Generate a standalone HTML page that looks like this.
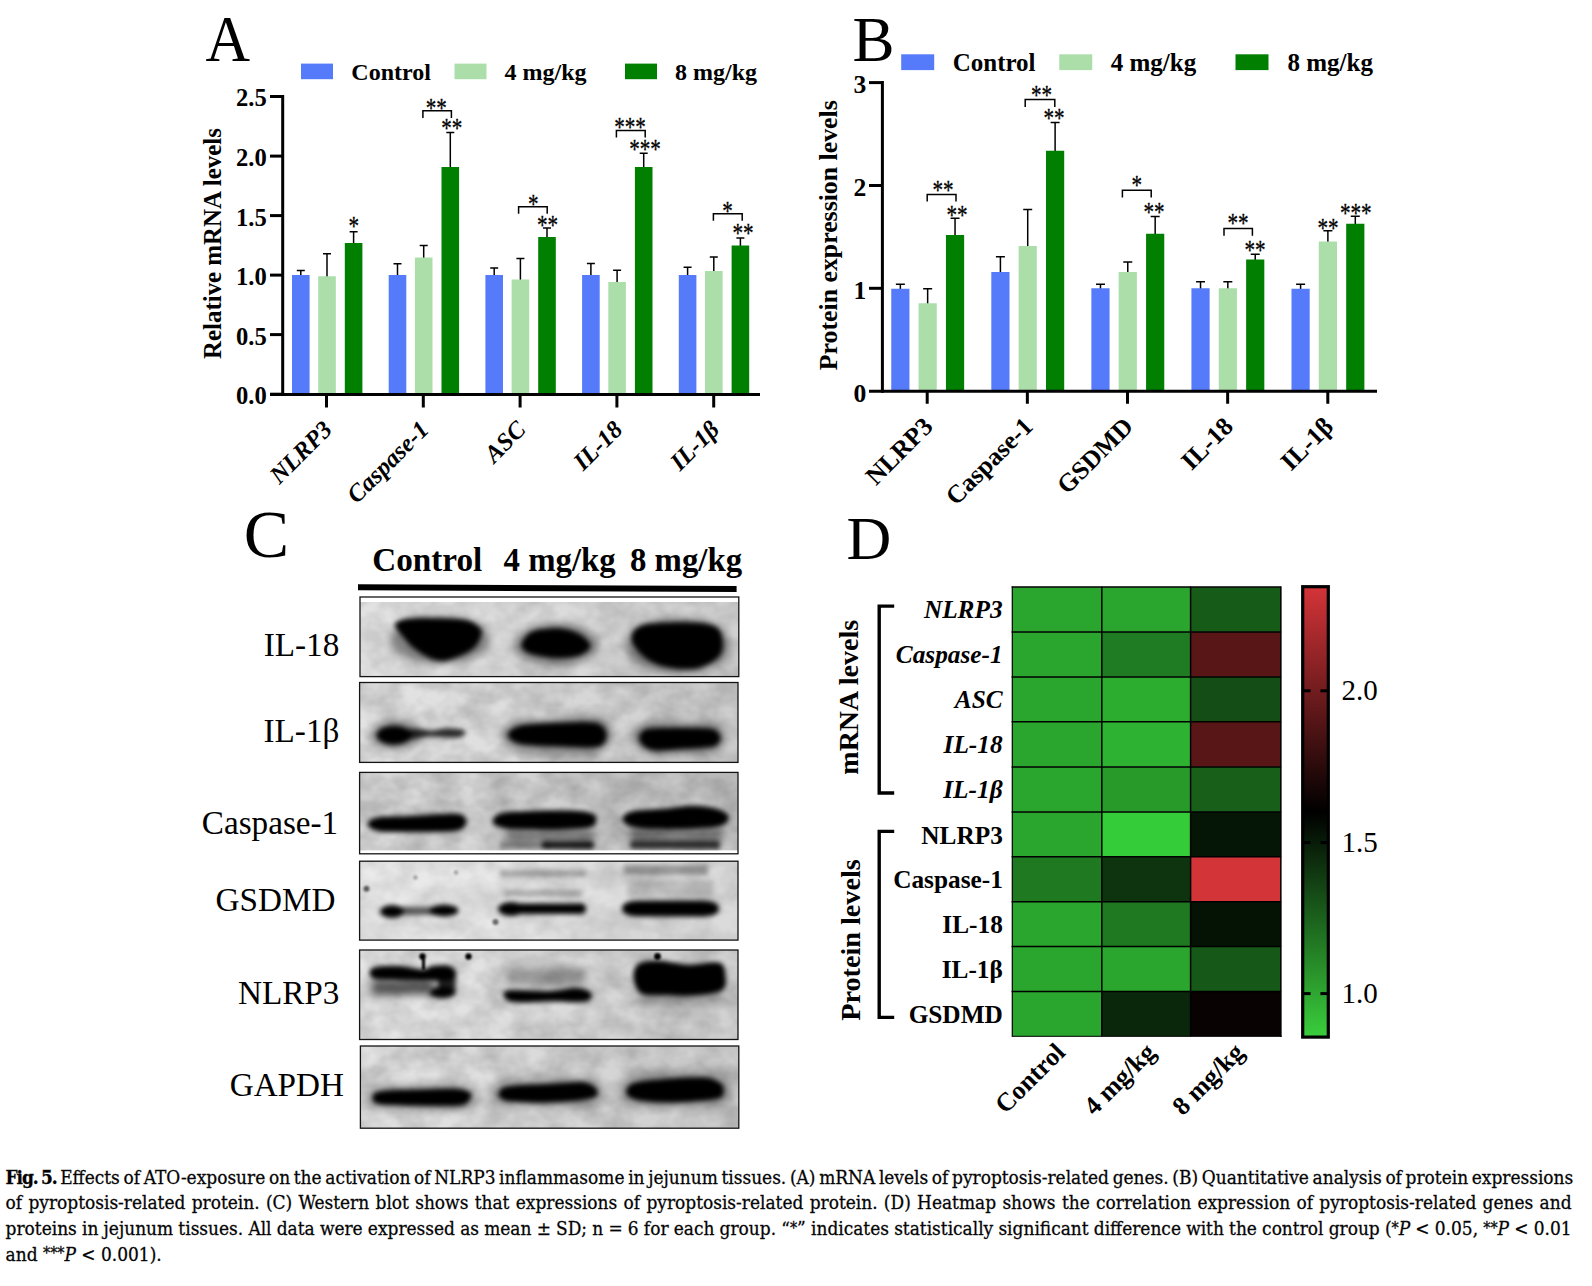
<!DOCTYPE html>
<html><head><meta charset="utf-8"><title>Fig. 5</title>
<style>html,body{margin:0;padding:0;background:#fff}svg{display:block}text{font-family:"Liberation Serif",serif;fill:#000}</style>
</head><body>
<svg width="1592" height="1286" viewBox="0 0 1592 1286">
<rect width="1592" height="1286" fill="#fff"/>
<text transform="translate(205.6 61) scale(0.935 1)" x="0" y="0" font-size="66">A</text>
<text x="852.5" y="60.7" font-size="63" font-weight="normal" font-style="normal" text-anchor="start">B</text>
<text x="243.8" y="557.4" font-size="68" font-weight="normal" font-style="normal" text-anchor="start">C</text>
<text x="846.5" y="558.7" font-size="62" font-weight="normal" font-style="normal" text-anchor="start">D</text>
<g id="panelA">
<line x1="300.8" y1="270.5" x2="300.8" y2="276" stroke="#000" stroke-width="1.5" stroke-linecap="butt"/>
<line x1="296.8" y1="270.5" x2="304.8" y2="270.5" stroke="#000" stroke-width="1.5" stroke-linecap="butt"/>
<rect x="292.00" y="275.00" width="17.60" height="119.40" fill="#557BFB"/>
<line x1="327.0" y1="253.75" x2="327.0" y2="277.25" stroke="#000" stroke-width="1.5" stroke-linecap="butt"/>
<line x1="323.0" y1="253.75" x2="331.0" y2="253.75" stroke="#000" stroke-width="1.5" stroke-linecap="butt"/>
<rect x="318.20" y="276.25" width="17.60" height="118.15" fill="#ACDEAA"/>
<line x1="353.6" y1="231.75" x2="353.6" y2="244" stroke="#000" stroke-width="1.5" stroke-linecap="butt"/>
<line x1="349.6" y1="231.75" x2="357.6" y2="231.75" stroke="#000" stroke-width="1.5" stroke-linecap="butt"/>
<rect x="344.80" y="243.00" width="17.60" height="151.40" fill="#007F00"/>
<line x1="397.5" y1="263.75" x2="397.5" y2="276" stroke="#000" stroke-width="1.5" stroke-linecap="butt"/>
<line x1="393.5" y1="263.75" x2="401.5" y2="263.75" stroke="#000" stroke-width="1.5" stroke-linecap="butt"/>
<rect x="388.70" y="275.00" width="17.60" height="119.40" fill="#557BFB"/>
<line x1="423.7" y1="245.5" x2="423.7" y2="258.5" stroke="#000" stroke-width="1.5" stroke-linecap="butt"/>
<line x1="419.7" y1="245.5" x2="427.7" y2="245.5" stroke="#000" stroke-width="1.5" stroke-linecap="butt"/>
<rect x="414.90" y="257.50" width="17.60" height="136.90" fill="#ACDEAA"/>
<line x1="450.3" y1="132.5" x2="450.3" y2="168" stroke="#000" stroke-width="1.5" stroke-linecap="butt"/>
<line x1="446.3" y1="132.5" x2="454.3" y2="132.5" stroke="#000" stroke-width="1.5" stroke-linecap="butt"/>
<rect x="441.50" y="167.00" width="17.60" height="227.40" fill="#007F00"/>
<line x1="494.2" y1="268" x2="494.2" y2="276" stroke="#000" stroke-width="1.5" stroke-linecap="butt"/>
<line x1="490.2" y1="268" x2="498.2" y2="268" stroke="#000" stroke-width="1.5" stroke-linecap="butt"/>
<rect x="485.40" y="275.00" width="17.60" height="119.40" fill="#557BFB"/>
<line x1="520.4" y1="258.5" x2="520.4" y2="280.5" stroke="#000" stroke-width="1.5" stroke-linecap="butt"/>
<line x1="516.4" y1="258.5" x2="524.4" y2="258.5" stroke="#000" stroke-width="1.5" stroke-linecap="butt"/>
<rect x="511.60" y="279.50" width="17.60" height="114.90" fill="#ACDEAA"/>
<line x1="546.9999999999999" y1="228" x2="546.9999999999999" y2="238" stroke="#000" stroke-width="1.5" stroke-linecap="butt"/>
<line x1="542.9999999999999" y1="228" x2="550.9999999999999" y2="228" stroke="#000" stroke-width="1.5" stroke-linecap="butt"/>
<rect x="538.20" y="237.00" width="17.60" height="157.40" fill="#007F00"/>
<line x1="590.9" y1="263.5" x2="590.9" y2="276" stroke="#000" stroke-width="1.5" stroke-linecap="butt"/>
<line x1="586.9" y1="263.5" x2="594.9" y2="263.5" stroke="#000" stroke-width="1.5" stroke-linecap="butt"/>
<rect x="582.10" y="275.00" width="17.60" height="119.40" fill="#557BFB"/>
<line x1="617.1" y1="270.25" x2="617.1" y2="283" stroke="#000" stroke-width="1.5" stroke-linecap="butt"/>
<line x1="613.1" y1="270.25" x2="621.1" y2="270.25" stroke="#000" stroke-width="1.5" stroke-linecap="butt"/>
<rect x="608.30" y="282.00" width="17.60" height="112.40" fill="#ACDEAA"/>
<line x1="643.6999999999999" y1="153.25" x2="643.6999999999999" y2="168" stroke="#000" stroke-width="1.5" stroke-linecap="butt"/>
<line x1="639.6999999999999" y1="153.25" x2="647.6999999999999" y2="153.25" stroke="#000" stroke-width="1.5" stroke-linecap="butt"/>
<rect x="634.90" y="167.00" width="17.60" height="227.40" fill="#007F00"/>
<line x1="687.5999999999999" y1="267.25" x2="687.5999999999999" y2="276" stroke="#000" stroke-width="1.5" stroke-linecap="butt"/>
<line x1="683.5999999999999" y1="267.25" x2="691.5999999999999" y2="267.25" stroke="#000" stroke-width="1.5" stroke-linecap="butt"/>
<rect x="678.80" y="275.00" width="17.60" height="119.40" fill="#557BFB"/>
<line x1="713.8" y1="257" x2="713.8" y2="272" stroke="#000" stroke-width="1.5" stroke-linecap="butt"/>
<line x1="709.8" y1="257" x2="717.8" y2="257" stroke="#000" stroke-width="1.5" stroke-linecap="butt"/>
<rect x="705.00" y="271.00" width="17.60" height="123.40" fill="#ACDEAA"/>
<line x1="740.3999999999999" y1="238" x2="740.3999999999999" y2="246.5" stroke="#000" stroke-width="1.5" stroke-linecap="butt"/>
<line x1="736.3999999999999" y1="238" x2="744.3999999999999" y2="238" stroke="#000" stroke-width="1.5" stroke-linecap="butt"/>
<rect x="731.60" y="245.50" width="17.60" height="148.90" fill="#007F00"/>
<line x1="282.7" y1="95.0" x2="282.7" y2="395.9" stroke="#000" stroke-width="3" stroke-linecap="butt"/>
<line x1="270" y1="394.4" x2="760" y2="394.4" stroke="#000" stroke-width="3" stroke-linecap="butt"/>
<line x1="270" y1="96.5" x2="282.7" y2="96.5" stroke="#000" stroke-width="3" stroke-linecap="butt"/>
<text x="266.8" y="106.4" font-size="24.6" font-weight="bold" font-style="normal" text-anchor="end">2.5</text>
<line x1="270" y1="156.1" x2="282.7" y2="156.1" stroke="#000" stroke-width="3" stroke-linecap="butt"/>
<text x="266.8" y="166.0" font-size="24.6" font-weight="bold" font-style="normal" text-anchor="end">2.0</text>
<line x1="270" y1="215.6" x2="282.7" y2="215.6" stroke="#000" stroke-width="3" stroke-linecap="butt"/>
<text x="266.8" y="225.5" font-size="24.6" font-weight="bold" font-style="normal" text-anchor="end">1.5</text>
<line x1="270" y1="275.1" x2="282.7" y2="275.1" stroke="#000" stroke-width="3" stroke-linecap="butt"/>
<text x="266.8" y="285.0" font-size="24.6" font-weight="bold" font-style="normal" text-anchor="end">1.0</text>
<line x1="270" y1="334.6" x2="282.7" y2="334.6" stroke="#000" stroke-width="3" stroke-linecap="butt"/>
<text x="266.8" y="344.5" font-size="24.6" font-weight="bold" font-style="normal" text-anchor="end">0.5</text>
<line x1="270" y1="394.2" x2="282.7" y2="394.2" stroke="#000" stroke-width="3" stroke-linecap="butt"/>
<text x="266.8" y="404.09999999999997" font-size="24.6" font-weight="bold" font-style="normal" text-anchor="end">0.0</text>
<line x1="326.5" y1="394.4" x2="326.5" y2="407.5" stroke="#000" stroke-width="3" stroke-linecap="butt"/>
<text x="333.5" y="431" font-size="24.6" font-weight="bold" font-style="italic" text-anchor="end" transform="rotate(-45 333.5 431)">NLRP3</text>
<line x1="423.3" y1="394.4" x2="423.3" y2="407.5" stroke="#000" stroke-width="3" stroke-linecap="butt"/>
<text x="430.3" y="431" font-size="24.6" font-weight="bold" font-style="italic" text-anchor="end" transform="rotate(-45 430.3 431)">Caspase-1</text>
<line x1="520.1" y1="394.4" x2="520.1" y2="407.5" stroke="#000" stroke-width="3" stroke-linecap="butt"/>
<text x="527.1" y="431" font-size="24.6" font-weight="bold" font-style="italic" text-anchor="end" transform="rotate(-45 527.1 431)">ASC</text>
<line x1="616.9" y1="394.4" x2="616.9" y2="407.5" stroke="#000" stroke-width="3" stroke-linecap="butt"/>
<text x="623.9" y="431" font-size="24.6" font-weight="bold" font-style="italic" text-anchor="end" transform="rotate(-45 623.9 431)">IL-18</text>
<line x1="713.7" y1="394.4" x2="713.7" y2="407.5" stroke="#000" stroke-width="3" stroke-linecap="butt"/>
<text x="720.7" y="431" font-size="24.6" font-weight="bold" font-style="italic" text-anchor="end" transform="rotate(-45 720.7 431)">IL-1β</text>
<text x="220.5" y="243.5" font-size="24.9" font-weight="bold" font-style="normal" text-anchor="middle" transform="rotate(-90 220.5 243.5)">Relative mRNA levels</text>
<rect x="301.00" y="63.60" width="32.00" height="15.60" fill="#557BFB"/>
<text x="351.3" y="79.8" font-size="24" font-weight="bold" font-style="normal" text-anchor="start">Control</text>
<rect x="454.50" y="63.60" width="32.00" height="15.60" fill="#ACDEAA"/>
<text x="504.5" y="79.8" font-size="24" font-weight="bold" font-style="normal" text-anchor="start">4 mg/kg</text>
<rect x="625.00" y="63.60" width="32.00" height="15.60" fill="#007F00"/>
<text x="675" y="79.8" font-size="24" font-weight="bold" font-style="normal" text-anchor="start">8 mg/kg</text>
<path d="M422.9 118V110.8H451.4V118" fill="none" stroke="#000" stroke-width="1.5"/>
<path d="M518.6 213.8V206.8H547.2V213.8" fill="none" stroke="#000" stroke-width="1.5"/>
<path d="M616.4 137.4V130.6H645.2V137.4" fill="none" stroke="#000" stroke-width="1.5"/>
<path d="M713.4 220.8V213.8H742.2V220.8" fill="none" stroke="#000" stroke-width="1.5"/>
<text transform="translate(353.75 222) scale(0.88 1.17)" x="0" y="10.94" font-size="24" text-anchor="middle" stroke="#000" stroke-width="0.3">*</text>
<text transform="translate(436.25 103.75) scale(0.88 1.17)" x="0" y="10.94" font-size="24" text-anchor="middle" stroke="#000" stroke-width="0.3">**</text>
<text transform="translate(451.75 123.75) scale(0.88 1.17)" x="0" y="10.94" font-size="24" text-anchor="middle" stroke="#000" stroke-width="0.3">**</text>
<text transform="translate(533.25 200) scale(0.88 1.17)" x="0" y="10.94" font-size="24" text-anchor="middle" stroke="#000" stroke-width="0.3">*</text>
<text transform="translate(547.5 220.75) scale(0.88 1.17)" x="0" y="10.94" font-size="24" text-anchor="middle" stroke="#000" stroke-width="0.3">**</text>
<text transform="translate(630 123) scale(0.88 1.17)" x="0" y="10.94" font-size="24" text-anchor="middle" stroke="#000" stroke-width="0.3">***</text>
<text transform="translate(645 145.5) scale(0.88 1.17)" x="0" y="10.94" font-size="24" text-anchor="middle" stroke="#000" stroke-width="0.3">***</text>
<text transform="translate(727.5 207) scale(0.88 1.17)" x="0" y="10.94" font-size="24" text-anchor="middle" stroke="#000" stroke-width="0.3">*</text>
<text transform="translate(743 229) scale(0.88 1.17)" x="0" y="10.94" font-size="24" text-anchor="middle" stroke="#000" stroke-width="0.3">**</text>
</g>
<g id="panelB">
<line x1="900.35" y1="284.25" x2="900.35" y2="289.75" stroke="#000" stroke-width="1.5" stroke-linecap="butt"/>
<line x1="895.85" y1="284.25" x2="904.85" y2="284.25" stroke="#000" stroke-width="1.5" stroke-linecap="butt"/>
<rect x="891.25" y="288.75" width="18.20" height="102.45" fill="#557BFB"/>
<line x1="927.65" y1="288.75" x2="927.65" y2="304.25" stroke="#000" stroke-width="1.5" stroke-linecap="butt"/>
<line x1="923.15" y1="288.75" x2="932.15" y2="288.75" stroke="#000" stroke-width="1.5" stroke-linecap="butt"/>
<rect x="918.55" y="303.25" width="18.20" height="87.95" fill="#ACDEAA"/>
<line x1="955.0500000000001" y1="218.25" x2="955.0500000000001" y2="236" stroke="#000" stroke-width="1.5" stroke-linecap="butt"/>
<line x1="950.5500000000001" y1="218.25" x2="959.5500000000001" y2="218.25" stroke="#000" stroke-width="1.5" stroke-linecap="butt"/>
<rect x="945.95" y="235.00" width="18.20" height="156.20" fill="#007F00"/>
<line x1="1000.41" y1="256.75" x2="1000.41" y2="273" stroke="#000" stroke-width="1.5" stroke-linecap="butt"/>
<line x1="995.91" y1="256.75" x2="1004.91" y2="256.75" stroke="#000" stroke-width="1.5" stroke-linecap="butt"/>
<rect x="991.31" y="272.00" width="18.20" height="119.20" fill="#557BFB"/>
<line x1="1027.7099999999998" y1="209.5" x2="1027.7099999999998" y2="247" stroke="#000" stroke-width="1.5" stroke-linecap="butt"/>
<line x1="1023.2099999999998" y1="209.5" x2="1032.2099999999998" y2="209.5" stroke="#000" stroke-width="1.5" stroke-linecap="butt"/>
<rect x="1018.61" y="246.00" width="18.20" height="145.20" fill="#ACDEAA"/>
<line x1="1055.11" y1="122.5" x2="1055.11" y2="151.75" stroke="#000" stroke-width="1.5" stroke-linecap="butt"/>
<line x1="1050.61" y1="122.5" x2="1059.61" y2="122.5" stroke="#000" stroke-width="1.5" stroke-linecap="butt"/>
<rect x="1046.01" y="150.75" width="18.20" height="240.45" fill="#007F00"/>
<line x1="1100.4699999999998" y1="284.25" x2="1100.4699999999998" y2="289.25" stroke="#000" stroke-width="1.5" stroke-linecap="butt"/>
<line x1="1095.9699999999998" y1="284.25" x2="1104.9699999999998" y2="284.25" stroke="#000" stroke-width="1.5" stroke-linecap="butt"/>
<rect x="1091.37" y="288.25" width="18.20" height="102.95" fill="#557BFB"/>
<line x1="1127.7699999999998" y1="262" x2="1127.7699999999998" y2="273" stroke="#000" stroke-width="1.5" stroke-linecap="butt"/>
<line x1="1123.2699999999998" y1="262" x2="1132.2699999999998" y2="262" stroke="#000" stroke-width="1.5" stroke-linecap="butt"/>
<rect x="1118.67" y="272.00" width="18.20" height="119.20" fill="#ACDEAA"/>
<line x1="1155.1699999999998" y1="216.5" x2="1155.1699999999998" y2="234.75" stroke="#000" stroke-width="1.5" stroke-linecap="butt"/>
<line x1="1150.6699999999998" y1="216.5" x2="1159.6699999999998" y2="216.5" stroke="#000" stroke-width="1.5" stroke-linecap="butt"/>
<rect x="1146.07" y="233.75" width="18.20" height="157.45" fill="#007F00"/>
<line x1="1200.53" y1="281.75" x2="1200.53" y2="289.25" stroke="#000" stroke-width="1.5" stroke-linecap="butt"/>
<line x1="1196.03" y1="281.75" x2="1205.03" y2="281.75" stroke="#000" stroke-width="1.5" stroke-linecap="butt"/>
<rect x="1191.43" y="288.25" width="18.20" height="102.95" fill="#557BFB"/>
<line x1="1227.83" y1="281.75" x2="1227.83" y2="289.25" stroke="#000" stroke-width="1.5" stroke-linecap="butt"/>
<line x1="1223.33" y1="281.75" x2="1232.33" y2="281.75" stroke="#000" stroke-width="1.5" stroke-linecap="butt"/>
<rect x="1218.73" y="288.25" width="18.20" height="102.95" fill="#ACDEAA"/>
<line x1="1255.23" y1="254.25" x2="1255.23" y2="260.5" stroke="#000" stroke-width="1.5" stroke-linecap="butt"/>
<line x1="1250.73" y1="254.25" x2="1259.73" y2="254.25" stroke="#000" stroke-width="1.5" stroke-linecap="butt"/>
<rect x="1246.13" y="259.50" width="18.20" height="131.70" fill="#007F00"/>
<line x1="1300.59" y1="284.25" x2="1300.59" y2="289.75" stroke="#000" stroke-width="1.5" stroke-linecap="butt"/>
<line x1="1296.09" y1="284.25" x2="1305.09" y2="284.25" stroke="#000" stroke-width="1.5" stroke-linecap="butt"/>
<rect x="1291.49" y="288.75" width="18.20" height="102.45" fill="#557BFB"/>
<line x1="1327.8899999999999" y1="230.75" x2="1327.8899999999999" y2="242.5" stroke="#000" stroke-width="1.5" stroke-linecap="butt"/>
<line x1="1323.3899999999999" y1="230.75" x2="1332.3899999999999" y2="230.75" stroke="#000" stroke-width="1.5" stroke-linecap="butt"/>
<rect x="1318.79" y="241.50" width="18.20" height="149.70" fill="#ACDEAA"/>
<line x1="1355.29" y1="216.25" x2="1355.29" y2="224.75" stroke="#000" stroke-width="1.5" stroke-linecap="butt"/>
<line x1="1350.79" y1="216.25" x2="1359.79" y2="216.25" stroke="#000" stroke-width="1.5" stroke-linecap="butt"/>
<rect x="1346.19" y="223.75" width="18.20" height="167.45" fill="#007F00"/>
<line x1="882.4" y1="81.1" x2="882.4" y2="392.7" stroke="#000" stroke-width="3" stroke-linecap="butt"/>
<line x1="869" y1="391.2" x2="1377" y2="391.2" stroke="#000" stroke-width="3" stroke-linecap="butt"/>
<line x1="869" y1="82.6" x2="882.4" y2="82.6" stroke="#000" stroke-width="3" stroke-linecap="butt"/>
<text x="866.2" y="93.0" font-size="25.6" font-weight="bold" font-style="normal" text-anchor="end">3</text>
<line x1="869" y1="185.5" x2="882.4" y2="185.5" stroke="#000" stroke-width="3" stroke-linecap="butt"/>
<text x="866.2" y="195.9" font-size="25.6" font-weight="bold" font-style="normal" text-anchor="end">2</text>
<line x1="869" y1="288.3" x2="882.4" y2="288.3" stroke="#000" stroke-width="3" stroke-linecap="butt"/>
<text x="866.2" y="298.7" font-size="25.6" font-weight="bold" font-style="normal" text-anchor="end">1</text>
<text x="866.2" y="401.59999999999997" font-size="25.6" font-weight="bold" font-style="normal" text-anchor="end">0</text>
<line x1="927.2" y1="391.2" x2="927.2" y2="403.75" stroke="#000" stroke-width="3" stroke-linecap="butt"/>
<text x="934.2" y="428" font-size="25.6" font-weight="bold" font-style="normal" text-anchor="end" transform="rotate(-45 934.2 428)">NLRP3</text>
<line x1="1027.3500000000001" y1="391.2" x2="1027.3500000000001" y2="403.75" stroke="#000" stroke-width="3" stroke-linecap="butt"/>
<text x="1034.35" y="428" font-size="25.6" font-weight="bold" font-style="normal" text-anchor="end" transform="rotate(-45 1034.35 428)">Caspase-1</text>
<line x1="1127.5" y1="391.2" x2="1127.5" y2="403.75" stroke="#000" stroke-width="3" stroke-linecap="butt"/>
<text x="1134.5" y="428" font-size="25.6" font-weight="bold" font-style="normal" text-anchor="end" transform="rotate(-45 1134.5 428)">GSDMD</text>
<line x1="1227.65" y1="391.2" x2="1227.65" y2="403.75" stroke="#000" stroke-width="3" stroke-linecap="butt"/>
<text x="1234.65" y="428" font-size="25.6" font-weight="bold" font-style="normal" text-anchor="end" transform="rotate(-45 1234.65 428)">IL-18</text>
<line x1="1327.8000000000002" y1="391.2" x2="1327.8000000000002" y2="403.75" stroke="#000" stroke-width="3" stroke-linecap="butt"/>
<text x="1334.8" y="428" font-size="25.6" font-weight="bold" font-style="normal" text-anchor="end" transform="rotate(-45 1334.8 428)">IL-1β</text>
<text x="837.5" y="235.2" font-size="25.8" font-weight="bold" font-style="normal" text-anchor="middle" transform="rotate(-90 837.5 235.2)">Protein expression levels</text>
<rect x="901.20" y="54.30" width="33.00" height="15.80" fill="#557BFB"/>
<text x="952.7" y="71" font-size="25" font-weight="bold" font-style="normal" text-anchor="start">Control</text>
<rect x="1059.25" y="54.30" width="33.00" height="15.80" fill="#ACDEAA"/>
<text x="1110.75" y="71" font-size="25" font-weight="bold" font-style="normal" text-anchor="start">4 mg/kg</text>
<rect x="1235.50" y="54.30" width="33.00" height="15.80" fill="#007F00"/>
<text x="1287.5" y="71" font-size="25" font-weight="bold" font-style="normal" text-anchor="start">8 mg/kg</text>
<path d="M927.2 201.5V194.4H956V201.5" fill="none" stroke="#000" stroke-width="1.5"/>
<path d="M1025.2 107V99.4H1054.8V107" fill="none" stroke="#000" stroke-width="1.5"/>
<path d="M1122.4 197.5V190.2H1151.2V197.5" fill="none" stroke="#000" stroke-width="1.5"/>
<path d="M1224 235.8V228.4H1252.4V235.8" fill="none" stroke="#000" stroke-width="1.5"/>
<text transform="translate(943 186.25) scale(0.88 1.17)" x="0" y="10.94" font-size="24" text-anchor="middle" stroke="#000" stroke-width="0.3">**</text>
<text transform="translate(957 211.25) scale(0.88 1.17)" x="0" y="10.94" font-size="24" text-anchor="middle" stroke="#000" stroke-width="0.3">**</text>
<text transform="translate(1041.6 91.4) scale(0.88 1.17)" x="0" y="10.94" font-size="24" text-anchor="middle" stroke="#000" stroke-width="0.3">**</text>
<text transform="translate(1054 114) scale(0.88 1.17)" x="0" y="10.94" font-size="24" text-anchor="middle" stroke="#000" stroke-width="0.3">**</text>
<text transform="translate(1136.75 181.25) scale(0.88 1.17)" x="0" y="10.94" font-size="24" text-anchor="middle" stroke="#000" stroke-width="0.3">*</text>
<text transform="translate(1154 208) scale(0.88 1.17)" x="0" y="10.94" font-size="24" text-anchor="middle" stroke="#000" stroke-width="0.3">**</text>
<text transform="translate(1238 219.25) scale(0.88 1.17)" x="0" y="10.94" font-size="24" text-anchor="middle" stroke="#000" stroke-width="0.3">**</text>
<text transform="translate(1255 246.25) scale(0.88 1.17)" x="0" y="10.94" font-size="24" text-anchor="middle" stroke="#000" stroke-width="0.3">**</text>
<text transform="translate(1328 223.75) scale(0.88 1.17)" x="0" y="10.94" font-size="24" text-anchor="middle" stroke="#000" stroke-width="0.3">**</text>
<text transform="translate(1355.75 209.25) scale(0.88 1.17)" x="0" y="10.94" font-size="24" text-anchor="middle" stroke="#000" stroke-width="0.3">***</text>
</g>
<g id="panelC">
<defs><filter id="bl" x="-10%" y="-30%" width="120%" height="160%"><feGaussianBlur stdDeviation="2.7"/></filter><filter id="bl2" x="-10%" y="-50%" width="120%" height="200%"><feGaussianBlur stdDeviation="4"/></filter><filter id="bl1" x="-30%" y="-30%" width="160%" height="160%"><feGaussianBlur stdDeviation="1.3"/></filter><filter id="bg" x="0" y="0" width="100%" height="100%"><feTurbulence type="fractalNoise" baseFrequency="0.035 0.045" numOctaves="3" seed="7" result="n"/><feColorMatrix in="n" type="matrix" values="0 0 0 0 0  0 0 0 0 0  0 0 0 0 0  0.32 0 0 0 -0.08"/></filter><linearGradient id="gbg" x1="0" x2="1" y1="0" y2="0"><stop offset="0" stop-color="#e2e2e2"/><stop offset="0.33" stop-color="#dedede"/><stop offset="0.6" stop-color="#d4d4d4"/><stop offset="1" stop-color="#cbcbcb"/></linearGradient></defs>
<text x="372.2" y="571.4" font-size="33.2" font-weight="bold" font-style="normal" text-anchor="start">Control</text>
<text x="503.6" y="571.4" font-size="32.8" font-weight="bold" font-style="normal" text-anchor="start">4 mg/kg</text>
<text x="630.0" y="571.4" font-size="32.8" font-weight="bold" font-style="normal" text-anchor="start">8 mg/kg</text>
<polygon points="358,584.2 736.6,586 736.6,592 358,590.2" fill="#000"/>
<text x="339.3" y="656.3" font-size="33.2" font-weight="normal" font-style="normal" text-anchor="end">IL-18</text>
<text x="339.4" y="742.4" font-size="33.2" font-weight="normal" font-style="normal" text-anchor="end">IL-1β</text>
<text x="338.2" y="833.6" font-size="33.2" font-weight="normal" font-style="normal" text-anchor="end">Caspase-1</text>
<text x="335.4" y="910.6" font-size="33.2" font-weight="normal" font-style="normal" text-anchor="end">GSDMD</text>
<text x="339.4" y="1004" font-size="33.2" font-weight="normal" font-style="normal" text-anchor="end">NLRP3</text>
<text x="344" y="1096.2" font-size="33.2" font-weight="normal" font-style="normal" text-anchor="end">GAPDH</text>
<clipPath id="cp0"><rect x="360" y="602" width="378.8" height="74.6"/></clipPath>
<g clip-path="url(#cp0)">
<rect x="360" y="602" width="378.8" height="74.6" fill="url(#gbg)"/>
<rect x="360" y="602" width="378.8" height="74.6" fill="#8a8a8a" filter="url(#bg)"/>
<rect x="360" y="602" width="378.8" height="74.6" fill="#fff" opacity="0.12"/>
<g filter="url(#bl)" fill="#000"><path d="M395.2 624.2C396.2 621.3 401.7 619.8 408.8 618.8C415.9 617.8 428.1 618.2 437.7 618.5C447.3 618.8 459.3 618.7 466.3 620.3C473.3 621.9 477.4 625.2 479.8 627.9C482.2 630.6 482.0 633.0 481.0 636.4C480.0 639.8 477.3 645.0 473.6 648.3C469.9 651.6 464.1 654.3 458.9 656.4C453.7 658.5 447.5 660.8 442.4 661.0C437.3 661.2 433.1 659.6 428.3 657.5C423.6 655.4 418.1 651.8 413.9 648.3C409.6 644.8 405.9 640.4 402.8 636.4C399.7 632.4 394.2 627.1 395.2 624.2Z"/><path d="M521.5 643.8C522.3 640.4 526.5 634.6 531.3 632.0C536.1 629.4 544.2 628.8 550.5 628.4C556.8 628.0 563.5 628.5 569.0 629.9C574.5 631.3 579.9 634.0 583.5 636.7C587.1 639.4 590.9 643.2 590.5 646.2C590.1 649.2 585.9 652.9 581.1 654.9C576.3 656.9 568.6 657.8 561.9 658.1C555.2 658.4 547.0 657.5 541.1 656.5C535.2 655.5 529.7 654.2 526.4 652.1C523.1 650.0 520.7 647.1 521.5 643.8Z"/><path d="M631.5 637.7C631.9 633.3 634.8 628.2 641.3 625.7C647.8 623.2 660.9 623.1 670.5 622.7C680.1 622.3 691.2 622.2 699.0 623.1C706.8 624.0 713.4 624.9 717.4 628.1C721.4 631.4 722.6 637.8 722.8 642.6C723.0 647.4 722.6 652.8 718.6 657.0C714.6 661.2 706.2 665.8 699.0 667.7C691.8 669.6 682.8 669.3 675.2 668.5C667.7 667.7 659.7 665.6 653.7 662.9C647.7 660.2 642.7 656.4 639.0 652.2C635.3 648.0 631.1 642.1 631.5 637.7Z"/></g>
<g filter="url(#bl2)" fill="#000"><ellipse cx="440" cy="640" rx="50" ry="24" opacity="0.4"/><ellipse cx="556" cy="645" rx="42" ry="21" opacity="0.4"/><ellipse cx="678" cy="646" rx="52" ry="28" opacity="0.4"/></g>
</g>
<rect x="360" y="597" width="378.8" height="79.6" fill="none" stroke="#141414" stroke-width="1.3"/>
<clipPath id="cp1"><rect x="359.6" y="682.5" width="378.4" height="79.9"/></clipPath>
<g clip-path="url(#cp1)">
<rect x="359.6" y="682.5" width="378.4" height="79.9" fill="url(#gbg)"/>
<rect x="359.6" y="682.5" width="378.4" height="79.9" fill="#8a8a8a" filter="url(#bg)"/>
<rect x="359.6" y="682.5" width="378.4" height="79.9" fill="#fff" opacity="0.05"/>
<g filter="url(#bl)" fill="#000"><ellipse cx="394" cy="735.3" rx="17.5" ry="9.5"/><path d="M404.0 730.0C407.0 728.3 417.3 729.4 422.0 729.5C426.7 729.6 428.0 730.7 432.0 730.5C436.0 730.3 441.0 728.7 446.0 728.5C451.0 728.3 458.8 728.7 462.0 729.5C465.2 730.3 465.8 732.2 465.5 733.5C465.2 734.8 463.2 736.3 460.0 737.0C456.8 737.7 450.7 737.6 446.0 737.5C441.3 737.4 436.0 736.5 432.0 736.5C428.0 736.5 426.7 737.0 422.0 737.5C417.3 738.0 407.0 740.8 404.0 739.5C401.0 738.2 401.0 731.7 404.0 730.0Z" opacity="0.8"/><path d="M508.0 735.0C508.0 732.6 511.3 729.2 515.0 727.5C518.7 725.8 522.5 725.2 530.0 724.5C537.5 723.8 550.0 723.3 560.0 723.0C570.0 722.7 583.0 722.0 590.0 722.5C597.0 723.0 599.2 723.9 602.0 726.0C604.8 728.1 606.3 732.0 606.5 735.0C606.7 738.0 605.4 741.9 603.0 744.0C600.6 746.1 599.2 747.1 592.0 747.5C584.8 747.9 570.3 746.9 560.0 746.5C549.7 746.1 537.5 745.8 530.0 745.0C522.5 744.2 518.7 743.7 515.0 742.0C511.3 740.3 508.0 737.4 508.0 735.0Z"/><path d="M639.0 738.5C638.7 735.8 640.8 732.7 643.0 731.0C645.2 729.3 645.8 729.0 652.0 728.5C658.2 728.0 670.7 728.0 680.0 728.0C689.3 728.0 701.8 727.9 708.0 728.5C714.2 729.1 714.9 729.8 717.0 731.5C719.1 733.2 720.7 736.2 720.5 738.5C720.3 740.8 718.6 744.0 716.0 745.5C713.4 747.0 711.0 746.9 705.0 747.5C699.0 748.1 688.0 748.5 680.0 749.0C672.0 749.5 662.8 750.8 657.0 750.5C651.2 750.2 648.0 749.0 645.0 747.0C642.0 745.0 639.3 741.2 639.0 738.5Z"/></g>
<g filter="url(#bl2)" fill="#000"><path d="M502.0 735.0C502.0 730.8 505.3 724.7 515.0 722.0C524.7 719.3 545.8 719.5 560.0 719.0C574.2 718.5 591.5 716.3 600.0 719.0C608.5 721.7 610.7 729.8 611.0 735.0C611.3 740.2 610.5 747.5 602.0 750.0C593.5 752.5 574.5 750.5 560.0 750.0C545.5 749.5 524.7 749.5 515.0 747.0C505.3 744.5 502.0 739.2 502.0 735.0Z" opacity="0.4"/><path d="M633.0 738.0C632.2 733.0 637.2 726.3 645.0 724.0C652.8 721.7 668.3 723.8 680.0 724.0C691.7 724.2 707.5 722.7 715.0 725.0C722.5 727.3 724.8 733.7 725.0 738.0C725.2 742.3 723.5 748.5 716.0 751.0C708.5 753.5 691.0 752.5 680.0 753.0C669.0 753.5 657.8 756.5 650.0 754.0C642.2 751.5 633.8 743.0 633.0 738.0Z" opacity="0.4"/><ellipse cx="396" cy="735" rx="26" ry="14" opacity="0.35"/><rect x="520" y="750" width="75" height="7" opacity="0.25"/></g>
</g>
<rect x="359.6" y="682.5" width="378.4" height="79.9" fill="none" stroke="#141414" stroke-width="1.3"/>
<clipPath id="cp2"><rect x="359.6" y="772.4" width="378.4" height="78.1"/></clipPath>
<g clip-path="url(#cp2)">
<rect x="359.6" y="772.4" width="378.4" height="78.1" fill="url(#gbg)"/>
<rect x="359.6" y="772.4" width="378.4" height="78.1" fill="#8a8a8a" filter="url(#bg)"/>
<rect x="359.6" y="772.4" width="378.4" height="78.1" fill="#000" opacity="0.03"/>
<g filter="url(#bl)" fill="#000"><path d="M367.5 824.0C367.5 821.7 370.9 818.5 378.0 817.2C385.1 815.9 399.7 816.5 410.0 816.0C420.3 815.5 431.7 814.3 440.0 814.0C448.3 813.7 455.6 812.8 460.0 814.0C464.4 815.2 466.5 818.8 466.5 821.5C466.5 824.2 464.4 828.2 460.0 830.0C455.6 831.8 448.3 831.7 440.0 832.0C431.7 832.3 420.3 832.1 410.0 832.0C399.7 831.9 385.1 832.5 378.0 831.2C370.9 829.9 367.5 826.3 367.5 824.0Z"/><path d="M492.5 821.3C492.9 819.2 494.6 815.4 500.0 813.7C505.4 812.0 512.5 811.7 525.0 811.2C537.5 810.7 563.8 810.3 575.0 810.7C586.2 811.1 589.0 812.4 592.5 813.7C596.0 815.1 596.7 816.5 596.3 818.8C595.9 821.1 597.7 825.7 590.0 827.6C582.3 829.5 562.9 829.8 550.0 830.1C537.1 830.4 521.2 829.9 512.5 829.3C503.8 828.7 500.8 827.6 497.5 826.3C494.2 825.0 492.1 823.4 492.5 821.3Z"/><path d="M622.5 818.8C622.9 816.3 625.8 812.9 632.5 811.2C639.2 809.5 652.1 809.6 662.5 808.7C672.9 807.8 685.4 805.5 695.0 805.7C704.6 805.9 714.4 808.0 720.0 810.0C725.6 812.0 728.8 814.8 728.8 817.5C728.8 820.2 726.9 824.3 720.0 826.3C713.1 828.3 699.2 828.8 687.5 829.3C675.8 829.8 659.6 829.8 650.0 829.3C640.4 828.8 634.6 828.0 630.0 826.3C625.4 824.5 622.1 821.3 622.5 818.8Z"/></g>
<g filter="url(#bl)" fill="#000"><rect x="542" y="841" width="52" height="8" rx="3" opacity="0.85"/><rect x="500" y="842" width="50" height="7" rx="3" opacity="0.35"/><rect x="630" y="840.5" width="90" height="8.5" rx="3" opacity="0.75"/></g>
<g filter="url(#bl2)" fill="#000"><rect x="505" y="830" width="88" height="12" opacity="0.4"/><rect x="630" y="829" width="92" height="12" opacity="0.45"/></g>
</g>
<rect x="359.6" y="772.4" width="378.4" height="81.4" fill="none" stroke="#141414" stroke-width="1.3"/>
<clipPath id="cp3"><rect x="359.6" y="861.2" width="378.4" height="78.9"/></clipPath>
<g clip-path="url(#cp3)">
<rect x="359.6" y="861.2" width="378.4" height="78.9" fill="url(#gbg)"/>
<rect x="359.6" y="861.2" width="378.4" height="78.9" fill="#8a8a8a" filter="url(#bg)"/>
<rect x="359.6" y="861.2" width="378.4" height="78.9" fill="#fff" opacity="0.3"/>
<g filter="url(#bl)" fill="#000"><ellipse cx="392" cy="911.5" rx="12" ry="6.5"/><ellipse cx="444" cy="910.5" rx="14.5" ry="6"/><rect x="392" y="907" width="50" height="8" rx="3" opacity="0.6"/><ellipse cx="511" cy="909" rx="13" ry="7"/><rect x="505" y="903.5" width="81" height="10.5" rx="5"/><path d="M622.0 908.5 Q622.0 900.5 641.4 900.5 L699.6 900.5 Q719.0 900.5 719.0 908.5 Q719.0 916.5 699.6 916.5 L641.4 916.5 Q622.0 916.5 622.0 908.5Z"/></g>
<g filter="url(#bl)" fill="#000"><rect x="500" y="870.5" width="86" height="6" opacity="0.28"/><rect x="504" y="890" width="78" height="6.5" opacity="0.25"/><rect x="624" y="865" width="84" height="10" opacity="0.3"/><rect x="628" y="880" width="85" height="18" opacity="0.12"/></g>
<g filter="url(#bl1)" fill="#000"><circle cx="366.5" cy="888.8" r="3" opacity="0.6"/><circle cx="495.5" cy="922" r="3" opacity="0.55"/><circle cx="415.5" cy="877.5" r="2.2" opacity="0.3"/><circle cx="456" cy="872.5" r="2.2" opacity="0.3"/></g>
</g>
<rect x="359.6" y="861.2" width="378.4" height="78.9" fill="none" stroke="#141414" stroke-width="1.3"/>
<clipPath id="cp4"><rect x="359.6" y="950" width="378.4" height="89.5"/></clipPath>
<g clip-path="url(#cp4)">
<rect x="359.6" y="950" width="378.4" height="89.5" fill="url(#gbg)"/>
<rect x="359.6" y="950" width="378.4" height="89.5" fill="#8a8a8a" filter="url(#bg)"/>
<rect x="359.6" y="950" width="378.4" height="89.5" fill="#fff" opacity="0.1"/>
<g filter="url(#bl)" fill="#000"><path d="M369.5 972.5C369.5 970.5 370.4 968.1 375.5 967.0C380.6 965.9 392.2 965.6 400.0 966.0C407.8 966.4 417.1 969.5 422.5 969.5C427.9 969.5 428.0 966.6 432.5 966.0C437.0 965.4 445.6 964.9 449.5 966.0C453.4 967.1 455.6 970.2 456.0 972.5C456.4 974.8 456.3 978.1 452.0 979.5C447.7 980.9 438.7 980.6 430.0 980.8C421.3 981.0 409.1 980.8 400.0 980.5C390.9 980.2 380.6 980.6 375.5 979.3C370.4 978.0 369.5 974.5 369.5 972.5Z"/><ellipse cx="442.5" cy="992.5" rx="13" ry="5.8"/><rect x="438" y="974" width="17.5" height="19" opacity="0.85"/><path d="M503.5 995.0C503.1 993.0 503.2 990.8 511.0 990.1C518.8 989.4 539.8 991.3 550.3 990.9C560.8 990.5 568.0 987.9 574.0 987.8C580.0 987.7 583.5 988.8 586.5 990.1C589.5 991.4 592.4 993.5 592.0 995.5C591.6 997.5 591.0 1000.8 584.0 1001.8C577.0 1002.8 562.0 1001.4 550.2 1001.5C538.5 1001.6 521.3 1003.4 513.5 1002.3C505.7 1001.2 503.9 997.0 503.5 995.0Z"/><path d="M633.5 977.5C633.1 972.6 634.3 966.9 638.4 964.1C642.5 961.3 650.2 960.5 658.3 960.6C666.4 960.7 676.9 964.2 687.0 964.6C697.1 965.0 712.7 961.0 719.1 962.8C725.5 964.5 724.7 970.6 725.3 975.1C725.9 979.6 727.1 986.3 722.8 989.7C718.4 993.1 709.1 994.6 699.2 995.6C689.3 996.6 672.9 996.0 663.2 995.6C653.5 995.2 645.9 996.4 640.9 993.4C635.9 990.4 633.9 982.4 633.5 977.5Z"/></g>
<g filter="url(#bl2)" fill="#000"><rect x="372" y="980" width="62" height="15" opacity="0.6"/><rect x="508" y="968" width="78" height="18" opacity="0.3"/><rect x="640" y="994" width="80" height="10" opacity="0.3"/></g>
<g filter="url(#bl1)" fill="#000"><circle cx="422.5" cy="956.5" r="3.2"/><circle cx="468.5" cy="956.5" r="3.2"/><circle cx="657.5" cy="956.5" r="3.4"/><rect x="422" y="956" width="3" height="14"/></g>
</g>
<rect x="359.6" y="950" width="378.4" height="89.5" fill="none" stroke="#141414" stroke-width="1.3"/>
<clipPath id="cp5"><rect x="360.4" y="1046" width="378.4" height="82.2"/></clipPath>
<g clip-path="url(#cp5)">
<rect x="360.4" y="1046" width="378.4" height="82.2" fill="url(#gbg)"/>
<rect x="360.4" y="1046" width="378.4" height="82.2" fill="#8a8a8a" filter="url(#bg)"/>
<rect x="360.4" y="1046" width="378.4" height="82.2" fill="#fff" opacity="0.05"/>
<g filter="url(#bl)" fill="#000"><path d="M372.5 1098.8C372.5 1096.6 371.2 1092.8 380.0 1091.2C388.8 1089.6 412.1 1089.6 425.0 1089.2C437.9 1088.8 450.0 1088.2 457.5 1088.7C465.0 1089.2 467.7 1091.2 470.0 1092.5C472.3 1093.8 471.7 1094.6 471.3 1096.3C470.9 1098.0 469.8 1101.0 467.5 1102.6C465.2 1104.2 466.7 1105.3 457.5 1105.8C448.3 1106.3 425.4 1106.0 412.5 1105.8C399.6 1105.5 386.7 1105.5 380.0 1104.3C373.3 1103.1 372.5 1101.0 372.5 1098.8Z"/><path d="M498.7 1093.8C499.7 1091.7 498.9 1087.9 507.5 1086.2C516.0 1084.5 537.1 1084.3 550.0 1083.7C562.9 1083.1 577.1 1081.2 585.0 1082.5C592.9 1083.8 596.7 1088.5 597.5 1091.2C598.3 1093.9 597.9 1096.9 590.0 1098.8C582.1 1100.7 562.9 1102.1 550.0 1102.6C537.1 1103.1 520.6 1102.4 512.5 1101.8C504.4 1101.2 503.6 1100.1 501.3 1098.8C499.0 1097.5 497.7 1095.9 498.7 1093.8Z"/><path d="M626.2 1091.3C627.0 1088.8 626.9 1084.7 635.0 1082.5C643.1 1080.3 663.3 1079.0 675.0 1078.2C686.7 1077.4 697.5 1076.8 705.0 1077.5C712.5 1078.2 716.9 1080.4 720.0 1082.5C723.1 1084.6 724.2 1087.3 723.8 1090.0C723.4 1092.7 725.6 1096.7 717.5 1098.8C709.4 1100.9 687.1 1102.2 675.0 1102.6C662.9 1103.0 652.5 1102.1 645.0 1101.3C637.5 1100.5 633.1 1099.3 630.0 1097.6C626.9 1095.9 625.4 1093.8 626.2 1091.3Z"/></g>
<g filter="url(#bl2)" fill="#000"><rect x="366" y="1084" width="112" height="27" rx="13" opacity="0.25"/><rect x="492" y="1078" width="111" height="29" rx="14" opacity="0.25"/><rect x="620" y="1072" width="111" height="35" rx="16" opacity="0.25"/></g>
</g>
<rect x="360.4" y="1046" width="378.4" height="82.2" fill="none" stroke="#141414" stroke-width="1.3"/>
</g>
<g id="panelD">
<rect x="1012.3" y="587.1" width="89.5" height="44.8" fill="#2aa52d"/>
<rect x="1101.8" y="587.1" width="88.8" height="44.8" fill="#2aa52d"/>
<rect x="1190.6" y="587.1" width="90.6" height="44.8" fill="#175b19"/>
<rect x="1012.3" y="631.9" width="89.5" height="45.0" fill="#2aa52d"/>
<rect x="1101.8" y="631.9" width="88.8" height="45.0" fill="#1f7c22"/>
<rect x="1190.6" y="631.9" width="90.6" height="45.0" fill="#581617"/>
<rect x="1012.3" y="676.9" width="89.5" height="44.9" fill="#2aa52d"/>
<rect x="1101.8" y="676.9" width="88.8" height="44.9" fill="#2cad2f"/>
<rect x="1190.6" y="676.9" width="90.6" height="44.9" fill="#144d15"/>
<rect x="1012.3" y="721.8" width="89.5" height="45.1" fill="#2aa52d"/>
<rect x="1101.8" y="721.8" width="88.8" height="45.1" fill="#2db331"/>
<rect x="1190.6" y="721.8" width="90.6" height="45.1" fill="#581617"/>
<rect x="1012.3" y="766.9" width="89.5" height="45.0" fill="#2aa52d"/>
<rect x="1101.8" y="766.9" width="88.8" height="45.0" fill="#279a2a"/>
<rect x="1190.6" y="766.9" width="90.6" height="45.0" fill="#18601a"/>
<rect x="1012.3" y="811.9" width="89.5" height="44.9" fill="#2aa52d"/>
<rect x="1101.8" y="811.9" width="88.8" height="44.9" fill="#34cc38"/>
<rect x="1190.6" y="811.9" width="90.6" height="44.9" fill="#061606"/>
<rect x="1012.3" y="856.8" width="89.5" height="44.9" fill="#1f7921"/>
<rect x="1101.8" y="856.8" width="88.8" height="44.9" fill="#0d340e"/>
<rect x="1190.6" y="856.8" width="90.6" height="44.9" fill="#d23438"/>
<rect x="1012.3" y="901.7" width="89.5" height="44.9" fill="#2aa52d"/>
<rect x="1101.8" y="901.7" width="88.8" height="44.9" fill="#1f7921"/>
<rect x="1190.6" y="901.7" width="90.6" height="44.9" fill="#051305"/>
<rect x="1012.3" y="946.6" width="89.5" height="44.9" fill="#2aa52d"/>
<rect x="1101.8" y="946.6" width="88.8" height="44.9" fill="#2aa52d"/>
<rect x="1190.6" y="946.6" width="90.6" height="44.9" fill="#165818"/>
<rect x="1012.3" y="991.5" width="89.5" height="44.8" fill="#2aa52d"/>
<rect x="1101.8" y="991.5" width="88.8" height="44.8" fill="#0a270b"/>
<rect x="1190.6" y="991.5" width="90.6" height="44.8" fill="#080202"/>
<line x1="1011.5999999999999" y1="587.1" x2="1281.2" y2="587.1" stroke="#000" stroke-width="1.5" stroke-linecap="butt"/>
<line x1="1011.5999999999999" y1="631.9" x2="1281.2" y2="631.9" stroke="#000" stroke-width="1.5" stroke-linecap="butt"/>
<line x1="1011.5999999999999" y1="676.9" x2="1281.2" y2="676.9" stroke="#000" stroke-width="1.5" stroke-linecap="butt"/>
<line x1="1011.5999999999999" y1="721.8" x2="1281.2" y2="721.8" stroke="#000" stroke-width="1.5" stroke-linecap="butt"/>
<line x1="1011.5999999999999" y1="766.9" x2="1281.2" y2="766.9" stroke="#000" stroke-width="1.5" stroke-linecap="butt"/>
<line x1="1011.5999999999999" y1="811.9" x2="1281.2" y2="811.9" stroke="#000" stroke-width="1.5" stroke-linecap="butt"/>
<line x1="1011.5999999999999" y1="856.8" x2="1281.2" y2="856.8" stroke="#000" stroke-width="1.5" stroke-linecap="butt"/>
<line x1="1011.5999999999999" y1="901.7" x2="1281.2" y2="901.7" stroke="#000" stroke-width="1.5" stroke-linecap="butt"/>
<line x1="1011.5999999999999" y1="946.6" x2="1281.2" y2="946.6" stroke="#000" stroke-width="1.5" stroke-linecap="butt"/>
<line x1="1011.5999999999999" y1="991.5" x2="1281.2" y2="991.5" stroke="#000" stroke-width="1.5" stroke-linecap="butt"/>
<line x1="1012.3" y1="586.4" x2="1012.3" y2="1036.3" stroke="#000" stroke-width="1.2" stroke-linecap="butt"/>
<line x1="1101.8" y1="586.4" x2="1101.8" y2="1036.3" stroke="#000" stroke-width="1.5" stroke-linecap="butt"/>
<line x1="1190.6" y1="586.4" x2="1190.6" y2="1036.3" stroke="#000" stroke-width="1.5" stroke-linecap="butt"/>
<line x1="1011.6999999999999" y1="1036.3" x2="1281.8" y2="1036.3" stroke="#000" stroke-width="1.0" stroke-linecap="butt"/>
<line x1="1280.8" y1="586.4" x2="1280.8" y2="1036.8" stroke="#000" stroke-width="1.5" stroke-linecap="butt"/>
<text x="1002.6" y="617.5" font-size="25.3" font-weight="bold" font-style="italic" text-anchor="end">NLRP3</text>
<text x="1002.6" y="663" font-size="25.3" font-weight="bold" font-style="italic" text-anchor="end">Caspase-1</text>
<text x="1002.6" y="708" font-size="25.3" font-weight="bold" font-style="italic" text-anchor="end">ASC</text>
<text x="1002.6" y="753" font-size="25.3" font-weight="bold" font-style="italic" text-anchor="end">IL-18</text>
<text x="1002.6" y="797.7" font-size="25.3" font-weight="bold" font-style="italic" text-anchor="end">IL-1β</text>
<text x="1002.8" y="843.8" font-size="25.3" font-weight="bold" font-style="normal" text-anchor="end">NLRP3</text>
<text x="1002.8" y="888" font-size="25.3" font-weight="bold" font-style="normal" text-anchor="end">Caspase-1</text>
<text x="1002.8" y="932.6" font-size="25.3" font-weight="bold" font-style="normal" text-anchor="end">IL-18</text>
<text x="1002.8" y="977.6" font-size="25.3" font-weight="bold" font-style="normal" text-anchor="end">IL-1β</text>
<text x="1002.8" y="1022.5" font-size="25.3" font-weight="bold" font-style="normal" text-anchor="end">GSDMD</text>
<path d="M894.2 606.1H879.2V793H894.2" fill="none" stroke="#000" stroke-width="3.4"/>
<path d="M894.2 831.4H879.2V1017.4H894.2" fill="none" stroke="#000" stroke-width="3.4"/>
<text x="857.9" y="697.3" font-size="28" font-weight="bold" font-style="normal" text-anchor="middle" transform="rotate(-90 857.9 697.3)">mRNA levels</text>
<text x="859.7" y="940" font-size="28.2" font-weight="bold" font-style="normal" text-anchor="middle" transform="rotate(-90 859.7 940)">Protein levels</text>
<text x="1066.5" y="1053.8" font-size="26" font-weight="bold" font-style="normal" text-anchor="end" transform="rotate(-45 1066.5 1053.8)">Control</text>
<text x="1157" y="1053.8" font-size="26" font-weight="bold" font-style="normal" text-anchor="end" transform="rotate(-45 1157 1053.8)">4 mg/kg</text>
<text x="1245.5" y="1053.8" font-size="26" font-weight="bold" font-style="normal" text-anchor="end" transform="rotate(-45 1245.5 1053.8)">8 mg/kg</text>
<defs><linearGradient id="cb" x1="0" y1="0" x2="0" y2="1"><stop offset="0" stop-color="#d43438"/><stop offset="0.5" stop-color="#000"/><stop offset="1" stop-color="#3ace3c"/></linearGradient></defs>
<rect x="1302.7" y="586.7" width="25.6" height="450.4" fill="url(#cb)" stroke="#000" stroke-width="3.2"/>
<line x1="1302.8" y1="690.8" x2="1310.6" y2="690.8" stroke="#000" stroke-width="3" stroke-linecap="butt"/>
<line x1="1320.4" y1="690.8" x2="1328.2" y2="690.8" stroke="#000" stroke-width="3" stroke-linecap="butt"/>
<text x="1341.6" y="699.9" font-size="29" font-weight="normal" font-style="normal" text-anchor="start">2.0</text>
<line x1="1302.8" y1="842.6" x2="1310.6" y2="842.6" stroke="#000" stroke-width="3" stroke-linecap="butt"/>
<line x1="1320.4" y1="842.6" x2="1328.2" y2="842.6" stroke="#000" stroke-width="3" stroke-linecap="butt"/>
<text x="1341.6" y="851.7" font-size="29" font-weight="normal" font-style="normal" text-anchor="start">1.5</text>
<line x1="1302.8" y1="993.6" x2="1310.6" y2="993.6" stroke="#000" stroke-width="3" stroke-linecap="butt"/>
<line x1="1320.4" y1="993.6" x2="1328.2" y2="993.6" stroke="#000" stroke-width="3" stroke-linecap="butt"/>
<text x="1341.6" y="1002.7" font-size="29" font-weight="normal" font-style="normal" text-anchor="start">1.0</text>
</g>
<g id="caption" fill="#141414" stroke="#141414" stroke-width="0.3">
<text transform="translate(5.6 1183.5) scale(0.975 1)" x="0" y="0" font-size="19.4" word-spacing="-1.775" style="font-family:'DejaVu Serif Condensed', 'Liberation Serif', serif"><tspan font-weight="bold" letter-spacing="-1.1" word-spacing="-1.6">Fig. 5.</tspan> Effects of ATO-exposure on the activation of NLRP3 inflammasome in jejunum tissues. (A) mRNA levels of pyroptosis-related genes. (B) Quantitative analysis of protein expressions</text>
<text transform="translate(5.6 1209.2) scale(0.975 1)" x="0" y="0" font-size="19.4" word-spacing="0.946" style="font-family:'DejaVu Serif Condensed', 'Liberation Serif', serif">of pyroptosis-related protein. (C) Western blot shows that expressions of pyroptosis-related protein. (D) Heatmap shows the correlation expression of pyroptosis-related genes and</text>
<text transform="translate(5.6 1235) scale(0.975 1)" x="0" y="0" font-size="19.4" word-spacing="-0.212" style="font-family:'DejaVu Serif Condensed', 'Liberation Serif', serif">proteins in jejunum tissues. All data were expressed as mean ± SD; n = 6 for each group. “<tspan font-size="16.4" dy="-1.2">*</tspan><tspan dy="1.2">”</tspan> indicates statistically significant difference with the control group (<tspan font-size="16.4" dy="-1.2">*</tspan><tspan dy="1.2" font-style="italic">P</tspan> &lt; 0.05, <tspan font-size="16.4" dy="-1.2">**</tspan><tspan dy="1.2" font-style="italic">P</tspan> &lt; 0.01</text>
<text transform="translate(5.6 1260.6) scale(0.975 1)" x="0" y="0" font-size="19.4" word-spacing="0.000" style="font-family:'DejaVu Serif Condensed', 'Liberation Serif', serif">and <tspan font-size="16.4" dy="-1.2">***</tspan><tspan dy="1.2" font-style="italic">P</tspan> &lt; 0.001).</text>
</g>
</svg></body></html>
